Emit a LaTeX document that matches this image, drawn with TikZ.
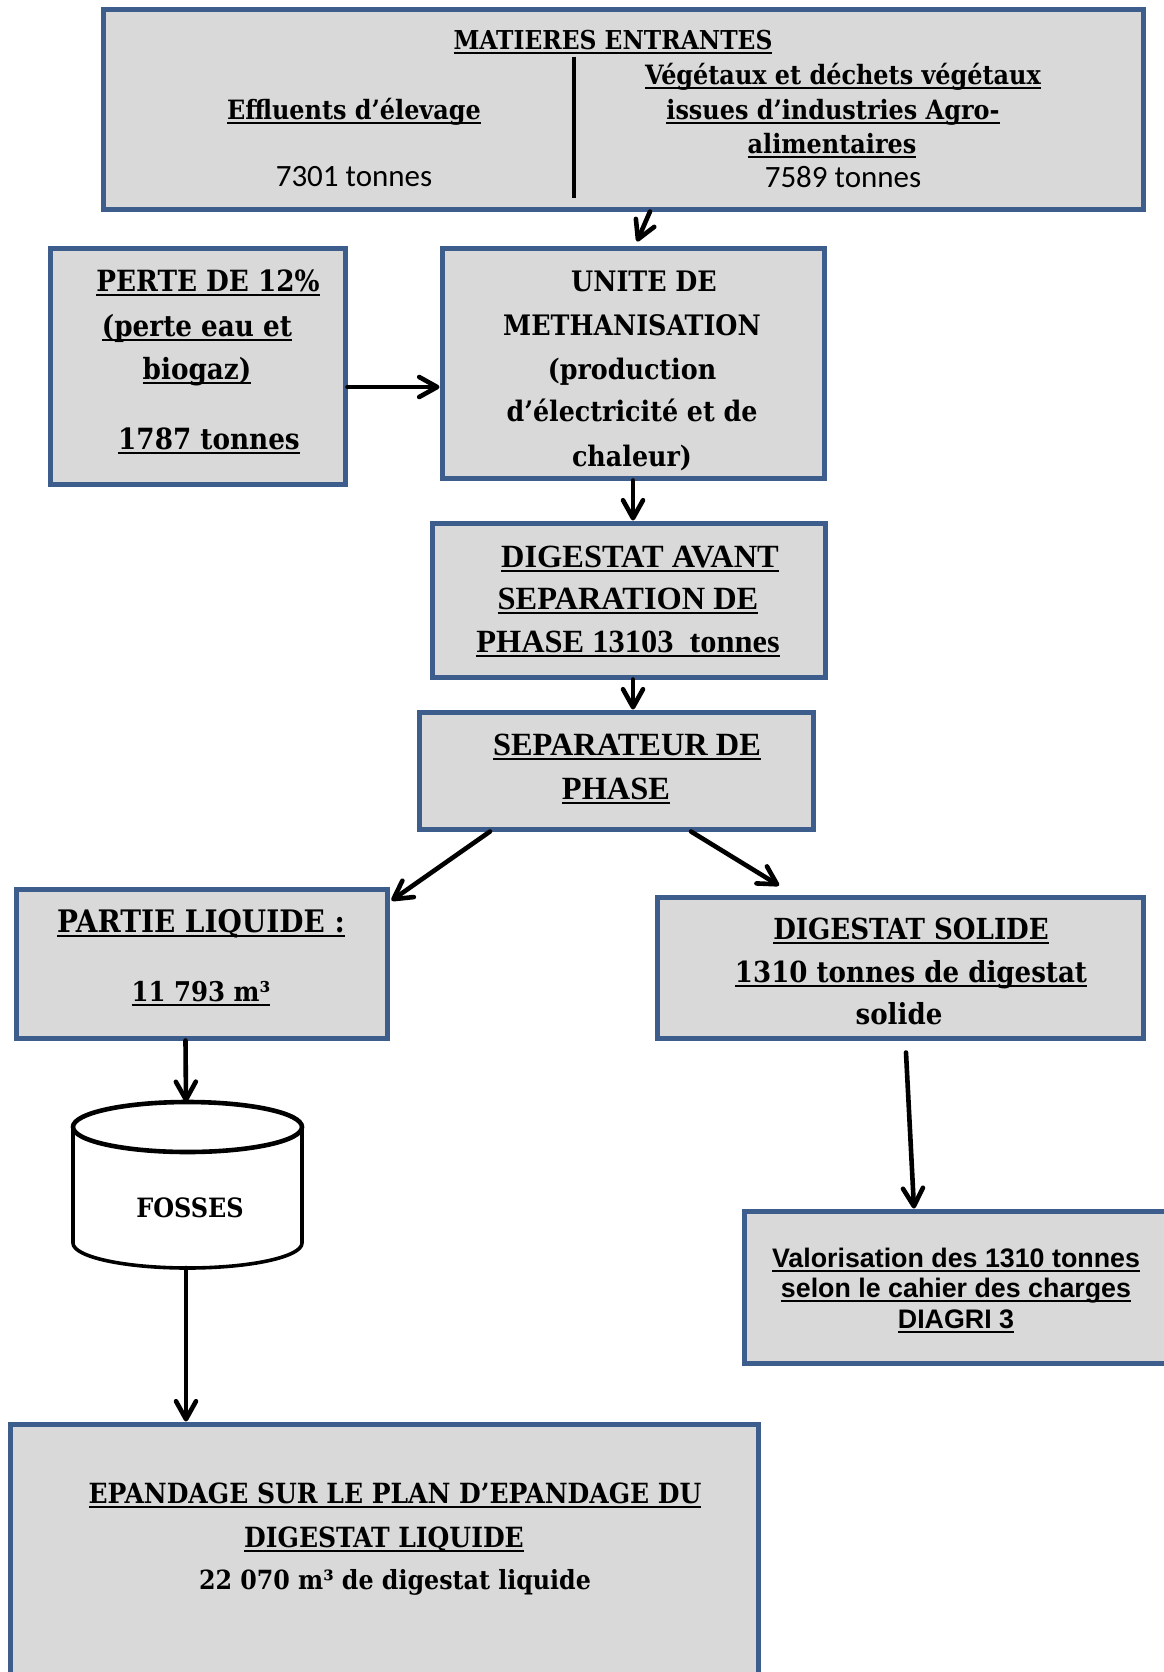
\documentclass[tikz,border=0pt]{standalone}
\usepackage{fontspec}
\setmainfont{Liberation Serif}
\newfontfamily\camb{DejaVu Serif Condensed}
\newfontfamily\calib{Carlito}
\newfontfamily\arialf{Liberation Sans}
\usetikzlibrary{arrows.meta}
\definecolor{bordc}{RGB}{61,94,141}
\definecolor{boxf}{RGB}{217,217,217}
\newsavebox\ulbox
\newcommand\ulx[1]{\sbox\ulbox{#1}\rlap{\rule[-2.4pt]{\wd\ulbox}{1.1pt}}\usebox\ulbox}
\begin{document}
\begin{tikzpicture}[x=0.5pt,y=-0.5pt,
  box/.style={draw=bordc, fill=boxf, line width=2.5pt, rectangle, inner sep=0pt},
  t/.style={anchor=base, inner sep=0pt},
  ctitle/.style={t, font=\camb\bfseries\fontsize{13}{16}\selectfont},
  ctop/.style={t, font=\camb\bfseries\fontsize{13.3}{16}\selectfont},
  cnum/.style={t, font=\calib\fontsize{15.5}{18}\selectfont},
  cperte/.style={t, font=\camb\bfseries\fontsize{14.6}{18}\selectfont},
  cunite/.style={t, font=\camb\bfseries\fontsize{14.1}{18}\selectfont},
  tdig/.style={t, font=\bfseries\fontsize{16.2}{19}\selectfont},
  cpart/.style={t, font=\camb\bfseries\fontsize{15.5}{18}\selectfont},
  cpartn/.style={t, font=\camb\bfseries\fontsize{13.6}{18}\selectfont},
  csol/.style={t, font=\camb\bfseries\fontsize{14.5}{18}\selectfont},
  cfos/.style={t, font=\camb\bfseries\fontsize{13.3}{17}\selectfont},
  aval/.style={t, font=\arialf\bfseries\fontsize{13.4}{15}\selectfont},
  cepa/.style={t, font=\camb\bfseries\fontsize{13.9}{18}\selectfont},
  cepan/.style={t, font=\camb\bfseries\fontsize{13.2}{18}\selectfont},
  arr/.style={line width=2.3pt, line cap=round, -{Straight Barb[length=9pt,width=10pt,round]}}]
\useasboundingbox (0,0) rectangle (1163,1672);
\fill[white] (0,0) rectangle (1163,1672);

% boxes
\node[box, minimum width=520pt, minimum height=100pt] (A) at (623,109) {};
\node[box, minimum width=147.5pt, minimum height=118pt] (B) at (197.5,366) {};
\node[box, minimum width=191pt, minimum height=115pt] (C) at (633,363) {};
\node[box, minimum width=196.5pt, minimum height=77pt] (D) at (628.5,600) {};
\node[box, minimum width=197pt, minimum height=58.5pt] (E) at (616,770.5) {};
\node[box, minimum width=185.5pt, minimum height=74.5pt] (F) at (201.5,963.5) {};
\node[box, minimum width=243pt, minimum height=70.5pt] (G) at (900,967.5) {};
\node[box, minimum width=215.5pt, minimum height=76pt] (H) at (959.5,1287) {};
\node[box, minimum width=374pt, minimum height=133pt] (I) at (384,1557) {};

% top box content
\draw[line width=2pt] ([shift={(-24.5pt,-25pt)}]A.north) -- ([shift={(-24.5pt,7pt)}]A.south);
\node[ctitle] (a1) at (613,49) {\ulx{MATIERES ENTRANTES}};
\node[ctop] (a2) at (354,119) {\ulx{Effluents d’élevage}};
\node[cnum] (a3) at (354,186) {7301 tonnes};
\node[ctop] (a4) at (843,84) {\ulx{Végétaux et déchets végétaux}};
\node[ctop] (a5) at (833,119) {\ulx{issues d’industries Agro-}};
\node[ctop] (a6) at (832,153) {\ulx{alimentaires}};
\node[cnum] (a7) at (843,187) {7589 tonnes};

% perte
\node[cperte] (b1) at (208,291) {\ulx{PERTE DE 12\%}};
\node[cperte] (b2) at (197,336) {\ulx{(perte eau et}};
\node[cperte] (b3) at (197,379) {\ulx{biogaz)}};
\node[cperte] (b4) at (209,449) {\ulx{1787 tonnes}};

% unite
\node[cunite] (c1) at (644,291) {UNITE DE};
\node[cunite] (c2) at (632,335) {METHANISATION};
\node[cunite] (c3) at (632,379) {(production};
\node[cunite] (c4) at (632,421) {d’électricité et de};
\node[cunite] (c5) at (632,466) {chaleur)};

% digestat avant
\node[tdig] (d1) at (640,567) {\ulx{DIGESTAT AVANT}};
\node[tdig] (d2) at (628,609) {\ulx{SEPARATION DE}};
\node[tdig] (d3) at (628,652) {\ulx{PHASE 13103 \ tonnes}};

% separateur
\node[tdig] (e1) at (627,755) {\ulx{SEPARATEUR DE}};
\node[tdig] (e2) at (616,799) {\ulx{PHASE}};

% partie liquide
\node[cpart] (f1) at (201,932) {\ulx{PARTIE LIQUIDE :}};
\node[cpartn] (f2) at (201,1001) {\ulx{11 793 m³}};

% digestat solide
\node[csol] (g1) at (911,939) {\ulx{DIGESTAT SOLIDE}};
\node[csol] (g2) at (911,982) {\ulx{1310 tonnes de digestat}};
\node[csol] (g3) at (899,1024) {solide};

% valorisation
\node[aval] (h1) at (956,1267) {\ulx{Valorisation des 1310 tonnes}};
\node[aval] (h2) at (956,1297) {\ulx{selon le cahier des charges}};
\node[aval] (h3) at (956,1328) {\ulx{DIAGRI 3}};

% epandage
\node[cepa] (i1) at (395,1503) {\ulx{EPANDAGE SUR LE PLAN D’EPANDAGE DU}};
\node[cepa] (i2) at (384,1547) {\ulx{DIGESTAT LIQUIDE}};
\node[cepan] (i3) at (395,1589) {22 070 m³ de digestat liquide};

% cylinder
\draw[line width=1.8pt, fill=white] (73,1127) -- (73,1243) arc[start angle=180, end angle=360, x radius=57.25pt, y radius=12.5pt] -- (302,1127);
\draw[line width=2.3pt, fill=white] (187.5,1127) ellipse[x radius=57.25pt, y radius=12.5pt];
\node[cfos] (fos) at (190,1217) {FOSSES};
\coordinate (cyltop) at (186,1102);
\coordinate (cylbot) at (186,1268);

% arrows
\draw[arr] ([xshift=13.5pt]A.south) -- ([xshift=2pt,yshift=2pt]C.north);
\draw[arr] ([yshift=-10.5pt]B.east) -- ([yshift=-10.5pt]B.east -| C.west);
\draw[arr] (C.south) -- (C.south |- D.north);
\draw[arr] ([xshift=2.25pt]D.south) -- ([xshift=2.25pt]D.south |- E.north);
\draw[arr] ([xshift=-63pt]E.south) -- ([shift={(1pt,-7pt)}]F.north east);
\draw[arr] ([xshift=37.5pt]E.south) -- ([shift={(-60.5pt,4.5pt)}]G.north);
\draw[arr] ([xshift=-8pt]F.south) -- (cyltop);
\draw[arr] (cylbot) -- (cylbot |- I.north);
\draw[arr] ([shift={(3pt,-6pt)}]G.south) -- ([xshift=-22.75pt]H.north);
\end{tikzpicture}
\end{document}
